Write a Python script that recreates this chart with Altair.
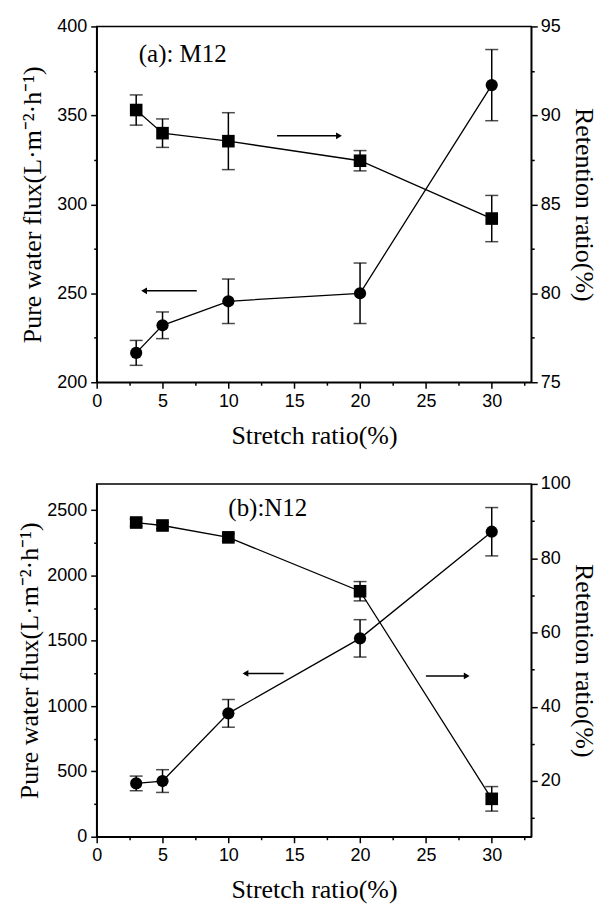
import altair as alt
import pandas as pd

# ---------------- data ----------------
stretch = [3, 5, 10, 20, 30]

# panel (a) M12
a_flux = [216.5, 232, 245.5, 250, 367]
a_flux_err = [7, 7.5, 12.5, 17, 20]
a_ret = [90.3, 89.0, 88.55, 87.45, 84.2]
a_ret_err = [0.85, 0.8, 1.6, 0.57, 1.3]

# panel (b) N12
b_flux = [408, 426, 944, 1518, 2334]
b_flux_err = [56, 87, 106, 143, 185]
b_ret = [89.6, 88.8, 85.6, 71.1, 15.2]
b_ret_err = [1.0, 0.9, 1.0, 2.6, 3.3]

# annotation labels and arrows (data units)
a_label = "(a): M12"
a_label_pos = [3.2, 380]
b_label = "(b):N12"
b_label_pos = [10.0, 2454]
# arrows: [tail x, head x, y]
a_flux_arrow = [7.6, 3.6, 251.4]
a_ret_arrow = [13.7, 18.4, 88.85]
b_flux_arrow = [14.2, 11.3, 1250]
b_ret_arrow = [25.0, 28.1, 48.3]

x_title = "Stretch ratio(%)"
flux_title = "Pure water flux(L·m⁻²·h⁻¹)"
ret_title = "Retention ratio(%)"

x_major = [0, 5, 10, 15, 20, 25, 30]
x_minor = [2.5, 7.5, 12.5, 17.5, 22.5, 27.5, 32.5]

SERIF = "Liberation Serif"
SANS = "Liberation Sans"


def axis(values, major_step, orient, title, title_pad, label_pad=4):
    return alt.Axis(
        values=values,
        format="d" if orient != "bottom" else "",
        labelExpr=f"abs(datum.value % {major_step}) < 1e-6 ? datum.label : ''",
        tickSize={"condition": {"test": f"abs(datum.value % {major_step}) > 1e-6", "value": 3}, "value": 6},
        orient=orient,
        title=title,
        titleFont=SERIF,
        titleFontSize=26,
        titleFontWeight="normal",
        titleColor="black",
        titlePadding=title_pad,
        labelFont=SANS,
        labelFontSize=18,
        labelColor="black",
        labelPadding=label_pad,
        labelFlush=False,
        labelOverlap=False,
        domainColor="black",
        domainWidth=1.5,
        tickColor="black",
        tickWidth=1.5,
        grid=False,
    )


def panel(flux, flux_err, ret, ret_err, flux_dom, flux_vals, flux_step,
          ret_dom, ret_vals, ret_step, label, label_pos, flux_arrow, ret_arrow,
          width, height, ftpad, rtpad):
    df = pd.DataFrame({
        "x": stretch,
        "flux": flux,
        "flux_lo": [v - e for v, e in zip(flux, flux_err)],
        "flux_hi": [v + e for v, e in zip(flux, flux_err)],
        "ret": ret,
        "ret_lo": [v - e for v, e in zip(ret, ret_err)],
        "ret_hi": [v + e for v, e in zip(ret, ret_err)],
    })
    xscale = alt.Scale(domain=[0, 33], nice=False, zero=False)
    xaxis = axis(x_major + x_minor, 5, "bottom", x_title, 12)

    def X(f):
        return alt.X(f"{f}:Q", scale=xscale, axis=xaxis, title=x_title)

    fscale = alt.Scale(domain=flux_dom, nice=False, zero=False)
    faxis = axis(flux_vals, flux_step, "left", flux_title, ftpad)
    rscale = alt.Scale(domain=ret_dom, nice=False, zero=False)
    raxis = axis(ret_vals, ret_step, "right", ret_title, rtpad, label_pad=3)

    def group(yf, ylo, yhi, scale, ax, title, shape, size, arrow):
        def Y(f):
            return alt.Y(f"{f}:Q", scale=scale, axis=ax, title=title)

        base = alt.Chart(df)
        line = base.mark_line(color="black", strokeWidth=1.3).encode(x=X("x"), y=Y(yf))
        bars = base.mark_rule(color="black", strokeWidth=1.5).encode(
            x=X("x"), y=Y(ylo), y2=alt.Y2(yhi))
        cap_lo = base.mark_tick(color="black", orient="horizontal", size=13, thickness=1.5).encode(
            x=X("x"), y=Y(ylo))
        cap_hi = base.mark_tick(color="black", orient="horizontal", size=13, thickness=1.5).encode(
            x=X("x"), y=Y(yhi))
        pts = base.mark_point(shape=shape, filled=True, color="black", opacity=1, size=size).encode(
            x=X("x"), y=Y(yf))
        adf = pd.DataFrame({"x1": [arrow[0]], "x2": [arrow[1]], "ay": [arrow[2]]})
        arule = alt.Chart(adf).mark_rule(color="black", strokeWidth=1.5).encode(
            x=X("x1"), x2=alt.X2("x2"), y=Y("ay"))
        head_shape = "triangle-right" if arrow[1] > arrow[0] else "triangle-left"
        ahead = alt.Chart(adf).mark_point(shape=head_shape, filled=True, color="black",
                                          opacity=1, size=45).encode(x=X("x2"), y=Y("ay"))
        return alt.layer(line, bars, cap_lo, cap_hi, pts, arule, ahead)

    left = group("flux", "flux_lo", "flux_hi", fscale, faxis, flux_title, "circle", 150, flux_arrow)
    ldf = pd.DataFrame({"lx": [label_pos[0]], "ly": [label_pos[1]], "t": [label]})
    txt = alt.Chart(ldf).mark_text(font=SERIF, fontSize=25, color="black", align="left",
                                   baseline="alphabetic").encode(
        x=X("lx"), y=alt.Y("ly:Q", scale=fscale, axis=faxis, title=flux_title), text="t:N")
    left = alt.layer(left, txt)
    right = group("ret", "ret_lo", "ret_hi", rscale, raxis, ret_title, "square", 160, ret_arrow)
    return alt.layer(left, right).resolve_scale(y="independent").properties(width=width, height=height)


top = panel(a_flux, a_flux_err, a_ret, a_ret_err,
            [200, 400], [200, 225, 250, 275, 300, 325, 350, 375, 400], 50,
            [75, 95], [75, 77.5, 80, 82.5, 85, 87.5, 90, 92.5, 95], 5,
            a_label, a_label_pos, a_flux_arrow, a_ret_arrow, 436, 357, 11, 10)

bottom = panel(b_flux, b_flux_err, b_ret, b_ret_err,
               [0, 2700], [0, 250, 500, 750, 1000, 1250, 1500, 1750, 2000, 2250, 2500], 500,
               [5, 100], [10, 20, 30, 40, 50, 60, 70, 80, 90, 100], 20,
               b_label, b_label_pos, b_flux_arrow, b_ret_arrow, 436, 354, 4, 0)

chart = alt.vconcat(top, bottom, spacing=25).configure_view(
    stroke="black", strokeWidth=1.5
).properties(
    background="white",
    padding={"left": 16, "top": 15, "right": 6, "bottom": 0},
)

chart.save("out.html", embed_options={"renderer": "svg", "actions": False})
